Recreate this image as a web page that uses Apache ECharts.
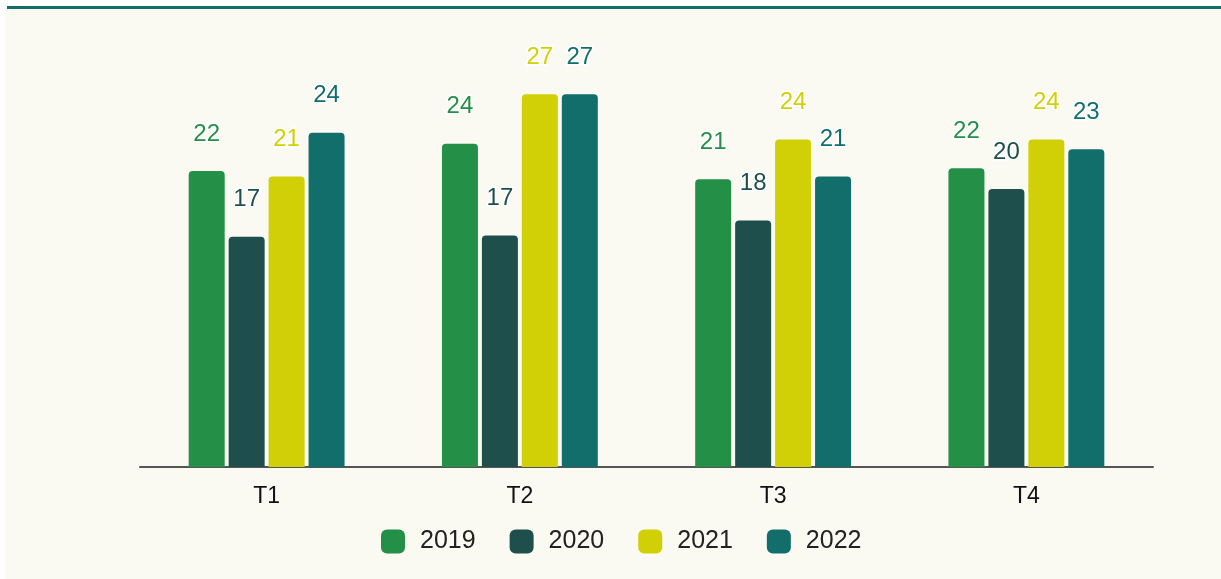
<!DOCTYPE html>
<html>
<head>
<meta charset="utf-8">
<script src="https://cdn.jsdelivr.net/npm/echarts@6/dist/echarts.min.js"></script>
<style>
  html, body { margin: 0; padding: 0; background: #ffffff; }
  #wrap { position: absolute; left: 5px; top: 5px; width: 1216px; height: 574px; background: #fafaf2; }
  #bar { position: absolute; left: 2px; top: 1px; right: 0; height: 3px; background: #136e6b; }
  #chart { position: absolute; left: 0; top: 0; width: 1216px; height: 574px; }
</style>
</head>
<body>
<div id="wrap">
  <div id="chart"></div>
  <div id="bar"></div>
</div>
<script>
const quarters = ['T1', 'T2', 'T3', 'T4']
const years = ['2019', '2020', '2021', '2022']
const values2019 = [21.6, 23.6, 21.0, 21.8]
const values2020 = [16.8, 16.9, 18.0, 20.3]
const values2021 = [21.2, 27.2, 23.9, 23.9]
const values2022 = [24.4, 27.2, 21.2, 23.2]
const colors = ['#248f46', '#1e4f4d', '#d1cf06', '#126e6b']

const allValues = [values2019, values2020, values2021, values2022]
const font = '"Liberation Sans", Arial, sans-serif'

const chart = echarts.init(document.getElementById('chart'))

const series = years.map((y, i) => ({
  name: y,
  type: 'bar',
  data: allValues[i],
  barWidth: 36,
  barGap: '11%',
  itemStyle: { color: colors[i], borderRadius: [4, 4, 0, 0] },
  label: {
    show: true,
    position: 'top',
    distance: 25,
    color: colors[i],
    fontSize: 24,
    fontFamily: font,
    textBorderColor: '#ffffff',
    textBorderWidth: 3,
    formatter: p => Math.round(p.value),
  },
}))

chart.setOption({
  animation: false,
  color: colors,
  legend: {
    data: years,
    left: 371,
    top: 519,
    itemWidth: 24,
    itemHeight: 24,
    itemGap: 34,
    icon: 'roundRect',
    textStyle: { color: '#222222', fontSize: 25, fontFamily: font, padding: [0, 0, 0, 10] },
  },
  grid: { left: 135, right: 68, top: 51, bottom: 112 },
  xAxis: {
    type: 'category',
    data: quarters,
    axisLine: { lineStyle: { color: '#555555', width: 2 } },
    axisTick: { show: false },
    axisLabel: { color: '#111111', fontSize: 23, fontFamily: font, margin: 18 },
  },
  yAxis: {
    type: 'value',
    min: 0,
    max: 30,
    show: false,
    splitLine: { show: false },
  },
  series,
})
</script>
</body>
</html>
